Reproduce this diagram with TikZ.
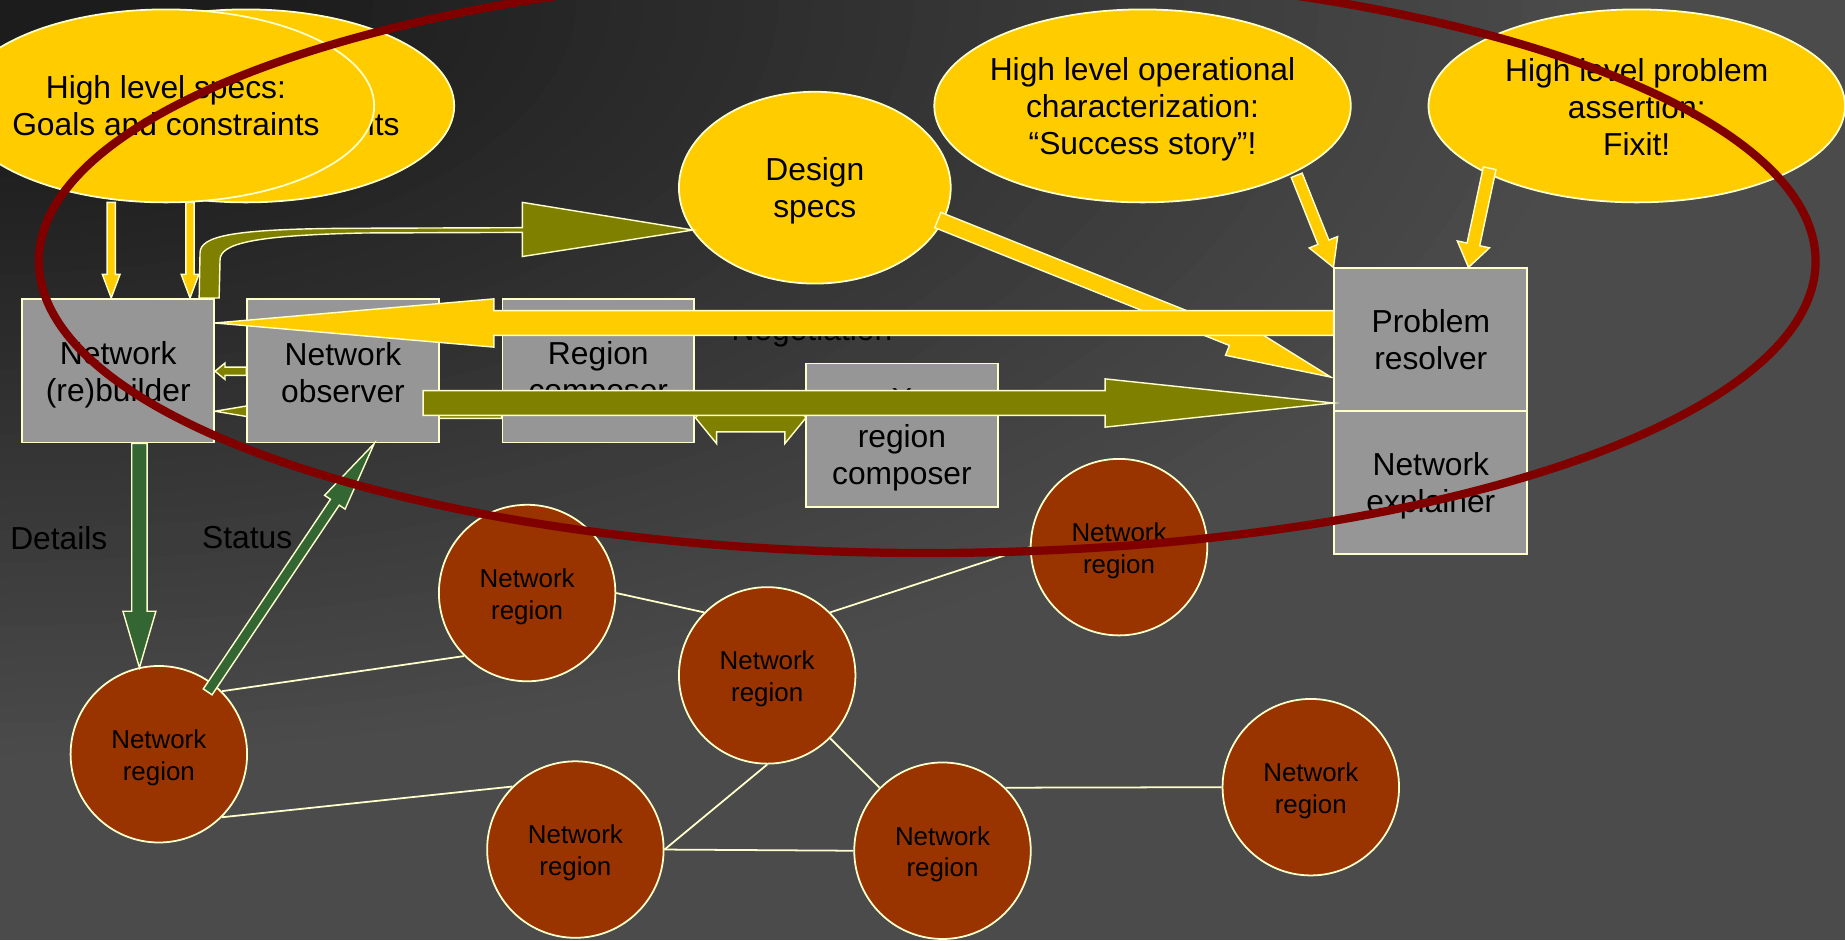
\documentclass[tikz,border=0pt]{standalone}
\usepackage{fontspec}
\setmainfont{Liberation Sans}
\usetikzlibrary{calc,shapes.geometric}
\definecolor{yel}{HTML}{FFCC00}
\definecolor{edge}{HTML}{FFFFCC}
\definecolor{boxg}{HTML}{969696}
\definecolor{oliv}{HTML}{808000}
\definecolor{grn}{HTML}{336633}
\definecolor{reg}{HTML}{993300}
\definecolor{dred}{HTML}{800000}
\definecolor{bgA}{HTML}{1C1C1C}
\definecolor{bgB}{HTML}{4B4B4B}
\pgfdeclarelayer{bg}
\pgfdeclarelayer{top}
\pgfsetlayers{bg,main,top}
\tikzset{
 bigtxt/.style={font=\fontsize{27}{31.5}\selectfont, align=center, text=black},
 smalltxt/.style={font=\fontsize{22}{27}\selectfont, align=center, text=black},
 yell/.style={ellipse, fill=yel, draw=edge, line width=1.5pt, inner sep=0pt, minimum width=354pt, minimum height=164pt},
 boxnode/.style={rectangle, fill=boxg, draw=edge, line width=1.5pt, minimum width=163pt, minimum height=122pt, inner sep=0pt, bigtxt},
 region/.style={circle, fill=reg, draw=edge, line width=1.5pt, minimum size=150pt, inner sep=0pt, smalltxt},
 link/.style={draw=edge, line width=1.5pt},
 yarrow/.style={fill=yel, draw=edge, line width=1.2pt},
 oarrow/.style={fill=oliv, draw=edge, line width=1.2pt},
 garrow/.style={fill=grn, draw=edge, line width=1.2pt},
 ring/.style={draw=dred, line width=7pt},
}
\newcommand{\bxlift}{\rule{0pt}{26pt}}
\newcommand{\rglift}{\rule{0pt}{22pt}}
% #1 style, #2 start, #3 tip, #4 shaft half width, #5 head half width, #6 head length
\newcommand{\blockarrow}[6]{%
 \coordinate (bahead) at ($(#3)!#6!(#2)$);
 \path[#1] ($(#2)!#4!90:(#3)$) -- ($(bahead)!#4!90:(#3)$) -- ($(bahead)!#5!90:(#3)$) -- (#3)
   -- ($(bahead)!#5!-90:(#3)$) -- ($(bahead)!#4!-90:(#3)$) -- ($(#2)!#4!-90:(#3)$) -- cycle;
}
\begin{document}
\begin{tikzpicture}[x=1pt,y=-1pt]
\useasboundingbox (0,0) rectangle (1568,799);
\clip (0,0) rectangle (1568,799);
\begin{pgfonlayer}{bg}
\fill[bgB] (0,0) rectangle (1568,799);
\foreach \i in {40,39,...,1}{
  \pgfmathsetmacro\s{0.15+0.85*\i/40}
  \pgfmathtruncatemacro\p{100*(\i-1)/40}
  \fill[bgB!\p!bgA] (0,0) ellipse [x radius={\s*1350pt}, y radius={\s*640pt}];
}
\node[yell] (hlsb) at (209,90) {};
\node[bigtxt] (hlsbT) at (hlsb.center) {High level specs:\\Goals and constraints};
\node[yell] (hls) at (141,90) {};
\node[bigtxt] (hlsT) at (hls.center) {High level specs:\\Goals and constraints};
\node[yell, minimum width=231pt, minimum height=163pt] (ds) at (692.5,159.5) {};
\node[bigtxt] (dsT) at ($(ds.center)+(0,3)$) {Design\\specs};
\node[yell] (hlo) at (971,90) {};
\node[bigtxt] (hloT) at ($(hlo.center)+(0,3)$) {High level operational\\characterization:\\“Success story”!};
\node[yell] (hlp) at (1391,90) {};
\node[bigtxt] (hlpT) at ($(hlp.center)+(0,1)$) {High level problem\\assertion:\\Fixit!};
\end{pgfonlayer}

% boxes
\node[boxnode] (nb) at (100.5,315) {\bxlift Network\\(re)builder};
\node[boxnode] (no) at (291.5,315) {\rule{0pt}{23pt}Network\\observer};
\node[boxnode] (rc) at (508.5,315) {\bxlift Region\\composer};
\node[boxnode] (xr) at (766.5,370) {\bxlift X\\region\\composer};
\node[boxnode, minimum width=164pt, minimum height=121pt] (pr) at (1216,288.5) {Problem\\resolver};
\node[boxnode, minimum width=164pt] (ne) at (1216,410) {\bxlift Network\\explainer};

\begin{pgfonlayer}{bg}
\coordinate (ya1) at (94.5,172); \coordinate (ya2) at (nb.north -| ya1);
\blockarrow{yarrow}{ya1}{ya2}{3.5pt}{7.5pt}{20pt}
\coordinate (yc1) at (161.5,172); \coordinate (yc2) at (nb.north -| yc1);
\blockarrow{yarrow}{yc1}{yc2}{3.5pt}{7.5pt}{20pt}
% curved olive arrow from builder to design specs
\draw[oarrow] ($(nb.north west)+(151,0)$) -- (170,215) .. controls (170,200) and (200,194.5) .. (300,194)
  -- (444,193.5) -- (444,172) -- (589,195.5) -- (444,218) -- (444,197.5) -- (310,198)
  .. controls (215,200) and (187,207) .. (187,221) -- ($(nb.north west)+(168,0)$) -- cycle;
% thin olive arrow from region composer to builder (behind observer)
\coordinate (tb1) at ($(rc.west)+(0,34.5)$); \coordinate (tb2) at (nb.east |- tb1);
\blockarrow{oarrow}{tb1}{tb2}{6pt}{14pt}{84pt}
\end{pgfonlayer}

\node[bigtxt, anchor=base] (neg) at (690,289) {Negotiation};

% small olive arrow observer -> builder
\coordinate (sa1) at ($(no.west)+(0,0.5)$); \coordinate (sa2) at (nb.east |- sa1);
\blockarrow{oarrow}{sa1}{sa2}{3.5pt}{7pt}{8.5pt}

% yellow arrows to problem resolver
\coordinate (dg1) at (797,187); \coordinate (dg2) at (1131,320.5);
\blockarrow{yarrow}{dg1}{dg2}{7pt}{16pt}{90pt}
\coordinate (op1) at (1102,149); \coordinate (op2) at (pr.north west);
\blockarrow{yarrow}{op1}{op2}{5pt}{13pt}{23pt}
\coordinate (fx1) at (1266,143); \coordinate (fx2) at ($(pr.north)+(32,0)$);
\blockarrow{yarrow}{fx1}{fx2}{5.5pt}{14pt}{20pt}

% double olive arrow between region composers
\draw[oarrow] (591,355) -- (609,333) -- (609,343) -- (667,343) -- (667,333) -- (685,355)
  -- (667,377) -- (667,367) -- (609,367) -- (609,377) -- cycle;

% big yellow arrow resolver -> builder
\coordinate (yb1) at ($(pr.west)+(0,-14)$); \coordinate (yb2) at (nb.east |- yb1);
\blockarrow{yarrow}{yb1}{yb2}{10.5pt}{20.5pt}{237pt}
% big olive arrow observer -> resolver
\coordinate (ob1) at (359.6,342.5); \coordinate (ob2) at (pr.west |- ob1);
\blockarrow{oarrow}{ob1}{ob2}{10.5pt}{20.5pt}{194pt}

% network regions
\node[region] (r1) at (135,641) {\rglift Network\\region};
\node[region] (r2) at (448,504) {\rglift Network\\region};
\node[region] (r3) at (652,574) {\rglift Network\\region};
\node[region] (r4) at (951,465) {\rglift Network\\region};
\node[region] (r5) at (489,722) {\rglift Network\\region};
\node[region] (r6) at (801,723) {\rglift Network\\region};
\node[region] (r7) at (1114,669) {\rglift Network\\region};
\draw[link] (r1.north east) -- (r2.south west);
\draw[link] (r1.south east) -- (r5.north west);
\draw[link] (r2.east) -- (r3.north west);
\draw[link] (r3.north east) -- (r4.west);
\draw[link] (r3.south) -- (r5.east);
\draw[link] (r3.south east) -- (r6.north west);
\draw[link] (r5.east) -- (r6.west);
\draw[link] (r6.north east) -- (r7.west);

% green arrows
\coordinate (gd1) at ($(nb.south)+(18,0)$); \coordinate (gd2) at (118.5,567.5);
\blockarrow{garrow}{gd1}{gd2}{6.5pt}{14pt}{48pt}
\coordinate (gs1) at (176.5,588); \coordinate (gs2) at (318,377);
\blockarrow{garrow}{gs1}{gs2}{4.5pt}{10.5pt}{60pt}
\node[bigtxt] (det) at (50,457) {Details};
\node[bigtxt] (sta) at (210,457) {Status};

\begin{pgfonlayer}{top}
\draw[ring] (788,222) ellipse [x radius=755pt, y radius=248pt];
\end{pgfonlayer}
\end{tikzpicture}
\end{document}
